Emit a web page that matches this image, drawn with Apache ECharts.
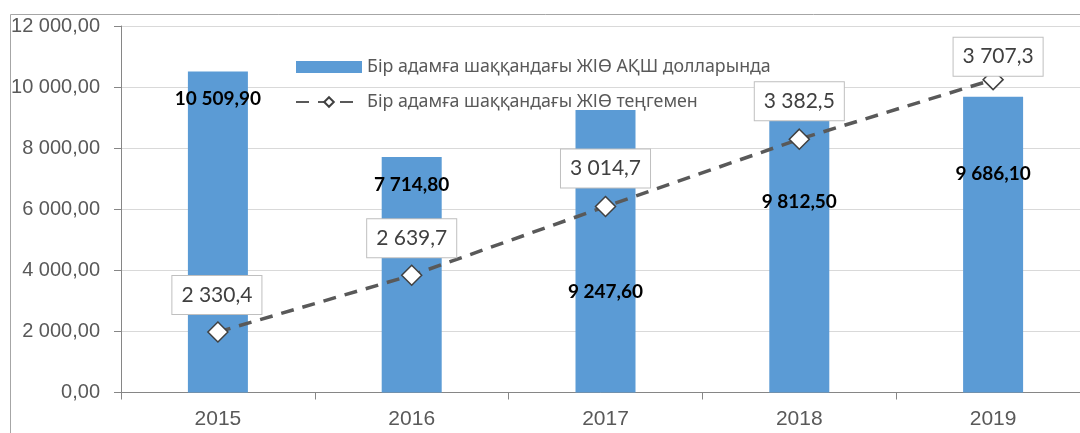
<!DOCTYPE html>
<html>
<head>
<meta charset="utf-8">
<script src="https://cdn.jsdelivr.net/npm/echarts@6/dist/echarts.min.js"></script>
<style>
html,body{margin:0;padding:0;background:#fff;}
#chart{width:1080px;height:433px;}
</style>
</head>
<body>
<div id="chart"></div>
<script>
// ---- data ----
const categories = ['2015', '2016', '2017', '2018', '2019'];
const usdName = 'Бір адамға шаққандағы ЖІӨ АҚШ долларында';
const kztName = 'Бір адамға шаққандағы ЖІӨ теңгемен';
const usdValues = [10509.90, 7714.80, 9247.60, 9812.50, 9686.10];
const kztValues = [2330.4, 2639.7, 3014.7, 3382.5, 3707.3];

// ---- layout (label placement, not data) ----
const barLabelDy = [27, 28, 182, 109, 77];
const lineLabelOffset = [[-1, -37], [0, -37], [0, -38], [0, -38], [5, -23]];

function fmt(v, d) {
  const s = Number(v).toFixed(d);
  const parts = s.split('.');
  const i = parts[0].replace(/\B(?=(\d{3})+(?!\d))/g, ' ');
  return parts[1] ? i + ',' + parts[1] : i;
}

const narrow = '"Liberation Sans Narrow", "Arial Narrow", "Liberation Sans", sans-serif';
const calib = 'Lato, "Noto Sans", sans-serif';

const chart = echarts.init(document.getElementById('chart'), null, {renderer: 'canvas'});
chart.setOption({
  animation: false,
  backgroundColor: '#fff',
  graphic: [{
    type: 'rect', left: 8, top: 12, z: -10,
    shape: {width: 1200, height: 600},
    style: {fill: 'none', stroke: '#a6a6a6', lineWidth: 1}
  }],
  grid: {left: 121, width: 969, top: 26, bottom: 40.5, containLabel: false, outerBoundsMode: 'none'},
  legend: {
    orient: 'vertical', left: 290, top: 53,
    itemWidth: 66, itemHeight: 12, itemGap: 17,
    textStyle: {color: '#595959', fontSize: 17.8, fontFamily: '"Noto Sans", sans-serif'},
    data: [{name: usdName, icon: 'rect'}, {name: kztName}]
  },
  xAxis: {
    type: 'category', data: categories,
    axisLine: {lineStyle: {color: '#868686', width: 1}},
    axisTick: {show: true, length: 7, lineStyle: {color: '#868686'}},
    axisLabel: {color: '#595959', fontSize: 21, fontFamily: narrow, margin: 16}
  },
  yAxis: [{
    type: 'value', min: 0, max: 12000, interval: 2000,
    axisLine: {show: true, lineStyle: {color: '#868686', width: 1}},
    axisTick: {show: true, length: 7, lineStyle: {color: '#868686'}},
    splitLine: {lineStyle: {color: '#d9d9d9', width: 1}},
    axisLabel: {color: '#595959', fontSize: 20, fontFamily: narrow, margin: 21,
      formatter: v => fmt(v, 2)}
  }, {
    type: 'value', min: 2000, max: 4000, show: false, splitLine: {show: false}
  }],
  series: [{
    name: usdName, type: 'bar', barWidth: 60, yAxisIndex: 0,
    itemStyle: {color: '#5b9bd5'},
    data: usdValues.map((v, i) => ({
      value: v,
      label: {position: ['50%', barLabelDy[i]]}
    })),
    label: {
      show: true, align: 'center', verticalAlign: 'middle',
      fontFamily: calib, fontWeight: 'bold', fontSize: 19, color: '#000',
      formatter: p => fmt(p.value, 2)
    },
    z: 2
  }, {
    name: kztName, type: 'line', yAxisIndex: 1,
    symbol: 'diamond', symbolSize: 20,
    itemStyle: {color: '#fff', borderColor: '#404040', borderWidth: 1.5},
    lineStyle: {color: '#595959', width: 3.5, type: [13, 9]},
    data: kztValues.map((v, i) => ({
      value: v,
      label: {offset: lineLabelOffset[i]}
    })),
    label: {
      show: true, position: 'inside', align: 'center', verticalAlign: 'middle',
      fontFamily: calib, fontSize: 21, color: '#404040', lineHeight: 22,
      backgroundColor: '#fff', borderColor: '#bfbfbf', borderWidth: 1,
      padding: [8, 9, 8, 9],
      formatter: p => fmt(p.value, 1)
    },
    z: 5
  }]
});
</script>
</body>
</html>
